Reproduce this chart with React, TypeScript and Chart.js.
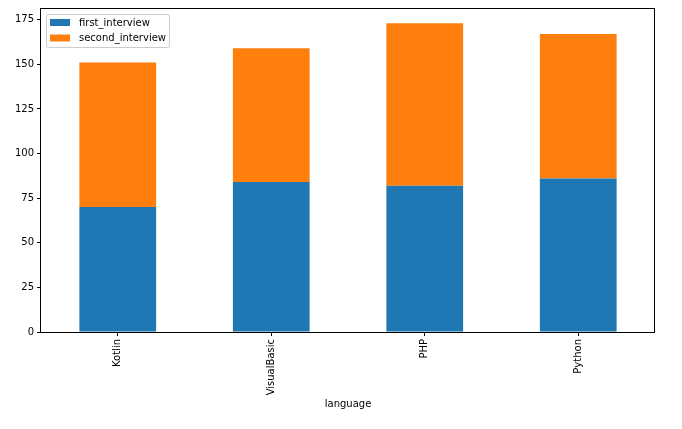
import React, { useEffect, useRef } from 'react';
import { Chart, registerables } from 'chart.js';

Chart.register(...registerables);

const languages = ['Kotlin', 'VisualBasic', 'PHP', 'Python'];
const firstInterview = [70, 84, 82, 86];
const secondInterview = [81, 75, 91, 81];
const yTicks = [0, 25, 50, 75, 100, 125, 150, 175];

const FONT = "'DejaVu Sans', sans-serif";

// frame around the plot area + legend drawn inside the axes, matplotlib style
const framePlugin = {
  id: 'frameAndLegend',
  afterDraw(chart: any) {
    const { ctx, chartArea } = chart;
    const { left, top, right, bottom } = chartArea;
    ctx.save();
    ctx.strokeStyle = '#000';
    ctx.lineWidth = 1;
    ctx.strokeRect(Math.round(left) - 0.5, Math.round(top) - 0.5, Math.round(right - left), Math.round(bottom - top) + 1);

    // legend box
    const bx = left + 5;
    const by = top + 5;
    const bw = 123;
    const bh = 33;
    ctx.fillStyle = 'rgba(255,255,255,0.8)';
    ctx.strokeStyle = '#cccccc';
    ctx.beginPath();
    ctx.roundRect(bx + 0.5, by + 0.5, bw, bh, 2);
    ctx.fill();
    ctx.stroke();

    ctx.font = `10px ${FONT}`;
    ctx.textBaseline = 'middle';
    ctx.textAlign = 'left';
    chart.data.datasets.forEach((ds: any, i: number) => {
      const cy = by + 8.5 + i * 15.5;
      ctx.fillStyle = ds.backgroundColor;
      ctx.fillRect(bx + 4, cy - 3.5, 20, 7);
      ctx.fillStyle = '#000';
      ctx.fillText(ds.label, bx + 33, cy + 0.5);
    });
    ctx.restore();
  },
};

const App: React.FC = () => {
  const canvasRef = useRef<HTMLCanvasElement | null>(null);
  const chartRef = useRef<Chart | null>(null);

  useEffect(() => {
    if (!canvasRef.current) return;
    if (chartRef.current) chartRef.current.destroy();
    const ctx = canvasRef.current.getContext('2d');
    if (!ctx) return;

    chartRef.current = new Chart(ctx, {
      type: 'bar',
      data: {
        labels: languages,
        datasets: [
          {
            label: 'first_interview',
            data: firstInterview,
            backgroundColor: '#1f77b4',
            barPercentage: 0.5,
            categoryPercentage: 1,
          },
          {
            label: 'second_interview',
            data: secondInterview,
            backgroundColor: '#ff7f0e',
            barPercentage: 0.5,
            categoryPercentage: 1,
          },
        ],
      },
      options: {
        animation: false,
        responsive: true,
        maintainAspectRatio: false,
        layout: { padding: { top: 5, right: 27, left: 0, bottom: 0 } },
        plugins: {
          legend: { display: false },
          tooltip: { enabled: false },
        },
        scales: {
          x: {
            stacked: true,
            border: { display: false },
            grid: {
              display: true,
              offset: false,
              drawOnChartArea: false,
              drawTicks: true,
              tickLength: 4,
              color: '#000',
            },
            ticks: {
              minRotation: 90,
              maxRotation: 90,
              padding: 3,
              color: '#000',
              font: { family: FONT, size: 10 },
            },
            title: {
              display: true,
              text: 'language',
              color: '#000',
              font: { family: FONT, size: 10 },
              padding: { top: 0, bottom: 19 },
            },
            afterFit: (axis: any) => {
              axis.height = 97;
            },
          },
          y: {
            stacked: true,
            min: 0,
            max: 181,
            border: { display: false },
            grid: {
              display: true,
              drawOnChartArea: false,
              drawTicks: true,
              tickLength: 4,
              color: '#000',
            },
            ticks: {
              padding: 3,
              color: '#000',
              font: { family: FONT, size: 10 },
            },
            afterBuildTicks: (axis: any) => {
              axis.ticks = yTicks.map((v) => ({ value: v }));
            },
            afterFit: (axis: any) => {
              axis.width = 41;
            },
          },
        },
      },
      plugins: [framePlugin],
    });

    return () => {
      if (chartRef.current) {
        chartRef.current.destroy();
        chartRef.current = null;
      }
    };
  }, []);

  return (
    <div style={{ position: 'fixed', left: 0, top: 0, width: 682, height: 429, background: '#fff' }}>
      <canvas ref={canvasRef} />
    </div>
  );
};

export default App;
